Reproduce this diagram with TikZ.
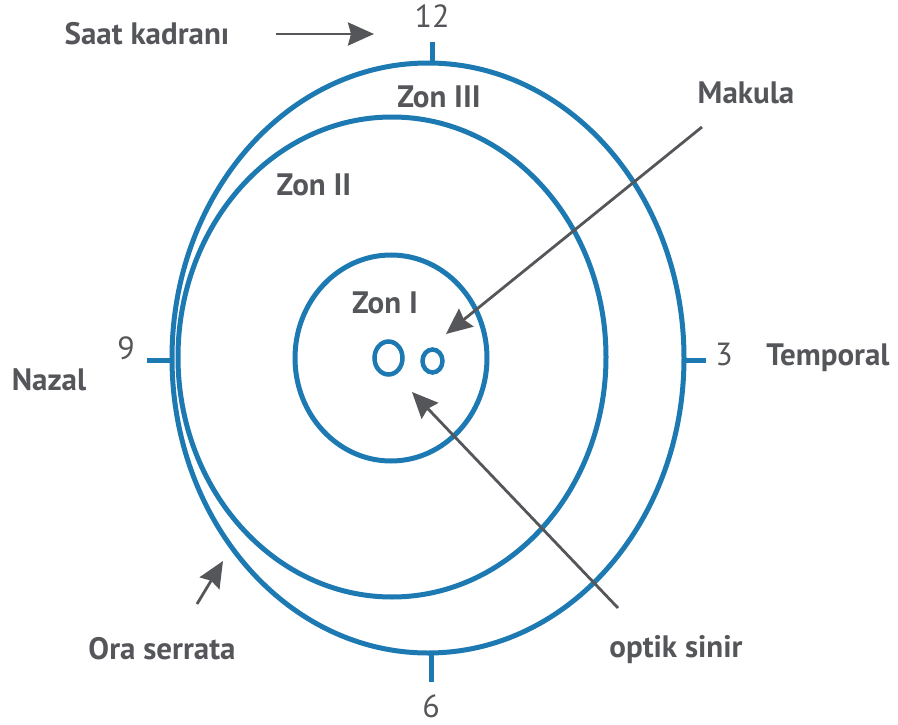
\documentclass[tikz,border=0pt]{standalone}
\usepackage{fontspec}
\setmainfont{PT Sans}
\usetikzlibrary{arrows.meta}
\definecolor{zblue}{RGB}{29,121,178}
\definecolor{zgrey}{RGB}{85,86,90}
\newcommand{\lblfont}{\fontsize{31}{36}\selectfont\bfseries}
\newcommand{\numfont}{\fontsize{32}{38}\selectfont}
\tikzset{
  blueline/.style={draw=zblue, line width=5pt},
  smallring/.style={draw=zblue, line width=4.5pt},
  ptr/.style={draw=zgrey, line width=2.8pt, -{Stealth[length=26pt,width=23pt,inset=3pt]}},
  lbl/.style={text=zgrey, font=\lblfont, inner sep=0pt, anchor=base},
  num/.style={text=zgrey, font=\numfont, inner sep=0pt, anchor=base},
}
\begin{document}
\begin{tikzpicture}[x=1pt,y=-1pt]
\useasboundingbox (0,0) rectangle (898,725);
% ellipses
\draw[blueline] (428,358) ellipse [x radius=256, y radius=295];
\draw[blueline] (392,357) ellipse [x radius=214, y radius=240];
\draw[blueline] (391,358) ellipse [x radius=96, y radius=103];
\draw[smallring] (388.5,358) ellipse [x radius=14, y radius=16.5];
\draw[smallring] (432.5,361) ellipse [x radius=10, y radius=11.5];
% ticks
\draw[blueline] (432,42) -- (432,63);
\draw[blueline] (431,653) -- (431,682);
\draw[blueline] (147,360) -- (170,360);
\draw[blueline] (682,360) -- (706,360);
% labels
\node[num] (n12) at (432,28) {12};
\node[num] (n6) at (431,717) {6};
\node[num] (n9) at (126,359) {9};
\node[num] (n3) at (724,365) {3};
\node[lbl] (saat) at (147,45) {Saat kadranı};
\node[lbl] (makula) at (746,103) {Makula};
\node[lbl] (temporal) at (828,365) {Temporal};
\node[lbl] (nazal) at (49,390) {Nazal};
\node[lbl] (ora) at (162,659) {Ora serrata};
\node[lbl] (optik) at (676,657) {optik sinir};
\node[lbl] (z3) at (439,108) {Zon III};
\node[lbl] (z2) at (314,195) {Zon II};
\node[lbl] (z1) at (385,313) {Zon I};
% arrow endpoints
\coordinate (saat-s) at (276,34);
\coordinate (saat-t) at (374,34);
\coordinate (mk-s) at (702,127);
\coordinate (mk-t) at (446,334);
\coordinate (op-s) at (618,608);
\coordinate (op-t) at (412,392);
\coordinate (ora-s) at (197,604);
\coordinate (ora-t) at (223,561);
\draw[ptr] (saat-s) -- (saat-t);
\draw[ptr] (mk-s) -- (mk-t);
\draw[ptr] (op-s) -- (op-t);
\draw[ptr] (ora-s) -- (ora-t);
\end{tikzpicture}
\end{document}
